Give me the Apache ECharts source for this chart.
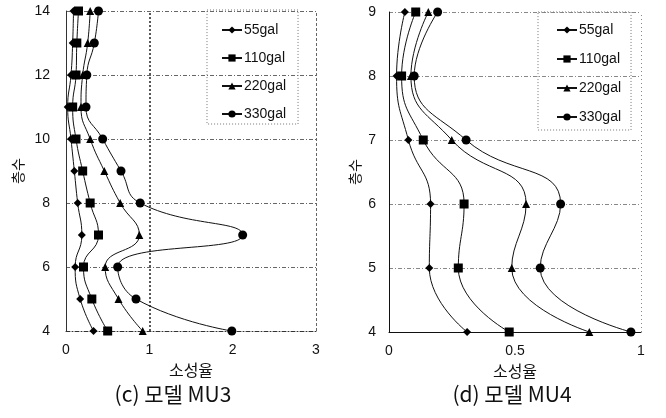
<!DOCTYPE html>
<html><head><meta charset="utf-8">
<script src="https://cdn.jsdelivr.net/npm/echarts@6/dist/echarts.min.js"></script>
<style>html,body{margin:0;padding:0;background:#fff}#c{width:666px;height:418px}</style>
</head><body><div id="c"></div>
<script>
const seriesNames = ['55gal', '110gal', '220gal', '330gal'];
const symbols = ['diamond', 'rect', 'triangle', 'circle'];
const symbolSizes = [8, 9, 8, 9];
// Left chart (c) 모델 MU3
const floorsMU3 = [4, 5, 6, 7, 8, 9, 10, 11, 12, 13, 14];
const mu3_55  = [0.33, 0.17, 0.11, 0.19, 0.14, 0.10, 0.06, 0.02, 0.06, 0.08, 0.09];
const mu3_110 = [0.50, 0.31, 0.21, 0.39, 0.29, 0.20, 0.12, 0.08, 0.12, 0.13, 0.15];
const mu3_220 = [0.92, 0.63, 0.47, 0.88, 0.65, 0.46, 0.29, 0.18, 0.20, 0.26, 0.29];
const mu3_330 = [1.99, 0.84, 0.62, 2.12, 0.89, 0.66, 0.44, 0.24, 0.25, 0.34, 0.39];
// Right chart (d) 모델 MU4
const floorsMU4 = [4, 5, 6, 7, 8, 9];
const mu4_55  = [0.31, 0.16, 0.165, 0.077, 0.03, 0.063];
const mu4_110 = [0.477, 0.275, 0.298, 0.136, 0.05, 0.106];
const mu4_220 = [0.795, 0.487, 0.544, 0.249, 0.087, 0.156];
const mu4_330 = [0.96, 0.60, 0.681, 0.306, 0.10, 0.193];
const xTicksMU3 = [0, 1, 2, 3];
const xTicksMU4 = [0, 0.5, 1];
const axisNameX = '소성율';
const axisNameY = '층수';
const captions = ['(c) 모델 MU3', '(d) 모델 MU4'];

const LAT = '"Liberation Sans", Arial, sans-serif';
const KR = '"Noto Sans CJK KR", sans-serif';
function pairs(xs, ys) { return xs.map((v, i) => [v, ys[i]]); }
const mu3 = [mu3_55, mu3_110, mu3_220, mu3_330];
const mu4 = [mu4_55, mu4_110, mu4_220, mu4_330];

const series = [];
mu3.forEach((d, i) => series.push({
  name: seriesNames[i], type: 'line', xAxisIndex: 0, yAxisIndex: 0,
  data: pairs(d, floorsMU3), smooth: 0.5, symbol: symbols[i], symbolSize: symbolSizes[i],
  lineStyle: { color: '#111', width: 1 }, itemStyle: { color: '#000' }, z: 5,
  markLine: i === 0 ? { silent: true, symbol: 'none', label: { show: false },
    lineStyle: { color: '#222', type: [2, 2], width: 1.5 }, data: [{ xAxis: 1 }] } : undefined
}));
series.push({ type: 'line', xAxisIndex: 0, yAxisIndex: 0, data: [], markLine: { silent: true, symbol: 'none', label: { show: false },
  lineStyle: { color: '#666', type: [3, 2], width: 1 }, data: [{ xAxis: 3 }] } });
mu4.forEach((d, i) => series.push({
  name: seriesNames[i], type: 'line', xAxisIndex: 1, yAxisIndex: 1,
  data: pairs(d, floorsMU4), smooth: 0.5, symbol: symbols[i], symbolSize: symbolSizes[i],
  lineStyle: { color: '#111', width: 1 }, itemStyle: { color: '#000' }, z: 5
}));
series.push({ type: 'line', xAxisIndex: 1, yAxisIndex: 1, data: [], markLine: { silent: true, symbol: 'none', label: { show: false },
  lineStyle: { color: '#888', type: [1, 3], width: 1 }, data: [{ xAxis: 1 }] } });

function legend(left, top) {
  return {
    orient: 'vertical', left: left, top: top, width: 95,
    borderColor: '#777', borderWidth: 1, borderType: [1, 2],
    itemWidth: 20, itemHeight: 9, selectedMode: false,
    textStyle: { fontFamily: LAT, fontSize: 14, color: '#111', padding: [0, 0, 0, -3] },
    data: seriesNames.slice()
  };
}

const option = {
  animation: false,
  backgroundColor: '#fff',
  grid: [
    { left: 66, top: 11, width: 250, height: 320 },
    { left: 389, top: 12, width: 252, height: 320 }
  ],
  legend: [
    Object.assign(legend(207, 10), { padding: [13, 12, 3, 14], itemGap: 14 }),
    Object.assign(legend(538, 12), { padding: [11, 10, 6, 18], itemGap: 15 })
  ],
  xAxis: [
    { type: 'value', gridIndex: 0, min: 0, max: 3, interval: 1,
      name: axisNameX, nameLocation: 'middle', nameGap: 29,
      nameTextStyle: { fontFamily: KR, fontSize: 16, color: '#111' },
      axisLine: { lineStyle: { color: '#333', type: [4, 2, 1, 2] } }, axisTick: { show: false },
      axisLabel: { fontFamily: LAT, fontSize: 14, color: '#111', margin: 12, formatter: v => xTicksMU3.includes(v) ? String(v) : '' },
      splitLine: { show: false } },
    { type: 'value', gridIndex: 1, min: 0, max: 1, interval: 0.5,
      name: axisNameX, nameLocation: 'middle', nameGap: 27,
      nameTextStyle: { fontFamily: KR, fontSize: 16, color: '#111' },
      axisLine: { lineStyle: { color: '#111' } }, axisTick: { show: false },
      axisLabel: { fontFamily: LAT, fontSize: 14, color: '#111', margin: 12, formatter: v => xTicksMU4.includes(v) ? String(v) : '' },
      splitLine: { show: false } }
  ],
  yAxis: [
    { type: 'value', gridIndex: 0, min: 4, max: 14, interval: 2,
      name: axisNameY, nameLocation: 'middle', nameGap: 41, nameRotate: 90,
      nameTextStyle: { fontFamily: KR, fontSize: 14, color: '#111' },
      axisLine: { lineStyle: { color: '#333' } }, axisTick: { show: false },
      axisLabel: { fontFamily: LAT, fontSize: 14, color: '#111', margin: 16 },
      splitLine: { lineStyle: { color: '#666', type: [4, 2, 1, 2] } } },
    { type: 'value', gridIndex: 1, min: 4, max: 9, interval: 1,
      name: axisNameY, nameLocation: 'middle', nameGap: 27, nameRotate: 90,
      nameTextStyle: { fontFamily: KR, fontSize: 14, color: '#111' },
      axisLine: { lineStyle: { color: '#111' } }, axisTick: { show: false },
      axisLabel: { fontFamily: LAT, fontSize: 14, color: '#111', margin: 13 },
      splitLine: { lineStyle: { color: '#888', type: [4, 2, 1, 2] } } }
  ],
  title: [
    { text: captions[0], left: 168, top: 379, textAlign: 'center',
      textStyle: { fontFamily: KR, fontSize: 21, fontWeight: 'normal', color: '#111' } },
    { text: captions[1], left: 507, top: 379, textAlign: 'center',
      textStyle: { fontFamily: KR, fontSize: 21, fontWeight: 'normal', color: '#111' } }
  ],
  series: series
};
const chart = echarts.init(document.getElementById('c'), null, { renderer: 'canvas' });
chart.setOption(option);
</script></body></html>
